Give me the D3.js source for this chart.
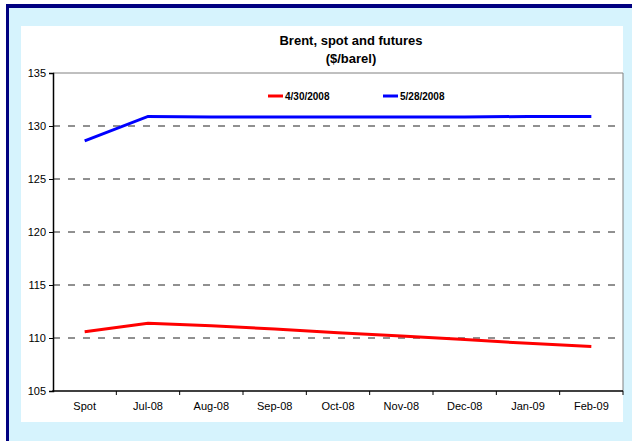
<!DOCTYPE html>
<html>
<head>
<meta charset="utf-8">
<script src="https://cdn.jsdelivr.net/npm/d3@7"></script>
<style>
  body { margin: 0; padding: 0; background: #fff; }
  svg { display: block; font-family: "Liberation Sans", Arial, sans-serif; }
</style>
</head>
<body>
<div id="chart"></div>
<script>
var categories = ["Spot", "Jul-08", "Aug-08", "Sep-08", "Oct-08", "Nov-08", "Dec-08", "Jan-09", "Feb-09"];
var april = [110.6, 111.4, 111.15, 110.85, 110.5, 110.2, 109.85, 109.5, 109.2];
var may = [128.6, 130.9, 130.85, 130.85, 130.85, 130.85, 130.85, 130.9, 130.9];
var yTicks = [105, 110, 115, 120, 125, 130, 135];
var seriesNames = ["4/30/2008", "5/28/2008"];
var seriesColors = ["#ff0000", "#0000ff"];

var width = 632,
    height = 441,
    plotLeft = 53,
    plotRight = 623,
    plotTop = 73,
    plotBottom = 391;

var svg = d3.select("#chart")
    .append("svg")
    .attr("width", width)
    .attr("height", height);

// outer frame
svg.append("rect")
    .attr("x", 0).attr("y", 0)
    .attr("width", width).attr("height", height)
    .style("fill", "#fff");
svg.append("rect")
    .attr("x", 6).attr("y", 4)
    .attr("width", width - 6).attr("height", height - 4)
    .style("fill", "#000080");
svg.append("rect")
    .attr("x", 9).attr("y", 8)
    .attr("width", width - 9).attr("height", height - 8)
    .style("fill", "#d6f3fd");
svg.append("rect")
    .attr("x", 21).attr("y", 26)
    .attr("width", 602).attr("height", 396)
    .style("fill", "#fff");

var x = d3.scaleBand()
    .domain(categories)
    .range([plotLeft, plotRight]);

var y = d3.scaleLinear()
    .domain([105, 135])
    .range([plotBottom, plotTop]);

// dashed gridlines
svg.append("g")
    .selectAll("line")
    .data(yTicks.filter(function (d) { return d > 105 && d < 135; }))
    .enter().append("line")
    .attr("x1", plotLeft)
    .attr("x2", plotRight)
    .attr("y1", function (d) { return y(d); })
    .attr("y2", function (d) { return y(d); })
    .style("stroke", "#222")
    .style("stroke-width", 1)
    .style("stroke-dasharray", "7,8");

// plot border top / right
svg.append("path")
    .attr("d", "M" + plotLeft + "," + plotTop + "H" + plotRight + "V" + plotBottom)
    .style("fill", "none")
    .style("stroke", "#808080")
    .style("stroke-width", 1);

// y axis
var yAxis = svg.append("g")
    .attr("transform", "translate(" + plotLeft + ",0)")
    .call(d3.axisLeft(y).tickValues(yTicks).tickSize(4).tickPadding(3).tickFormat(d3.format("d")));

// x axis with ticks at category boundaries
var xAxis = svg.append("g")
    .attr("transform", "translate(0," + plotBottom + ")")
    .call(d3.axisBottom(x).tickSize(0).tickPadding(11));

xAxis.selectAll(".boundary")
    .data(categories)
    .enter().append("line")
    .attr("class", "boundary")
    .attr("x1", function (d) { return x(d) + x.bandwidth(); })
    .attr("x2", function (d) { return x(d) + x.bandwidth(); })
    .attr("y1", 0)
    .attr("y2", 4)
    .style("stroke", "#000");

[yAxis, xAxis].forEach(function (a) {
    a.select(".domain").style("stroke", "#000").style("stroke-width", 1.5);
    a.selectAll("text").style("font-size", "11px").style("fill", "#000")
        .style("font-family", "'Liberation Sans', Arial, sans-serif");
});
xAxis.select(".domain").attr("d", "M" + (plotLeft - 0.75) + ",0H" + plotRight);

// lines
var line = d3.line()
    .x(function (d, i) { return x(categories[i]) + x.bandwidth() / 2; })
    .y(function (d) { return y(d); });

[april, may].forEach(function (s, i) {
    svg.append("path")
        .datum(s)
        .attr("d", line)
        .style("fill", "none")
        .style("stroke", seriesColors[i])
        .style("stroke-width", 3);
});

// legend
var legendX = [268, 383];
var legend = svg.selectAll(".legend")
    .data(seriesNames)
    .enter().append("g")
    .attr("class", "legend")
    .attr("transform", function (d, i) { return "translate(" + legendX[i] + ",96)"; });
legend.append("line")
    .attr("x1", 0).attr("x2", 15)
    .attr("y1", 0).attr("y2", 0)
    .style("stroke", function (d, i) { return seriesColors[i]; })
    .style("stroke-width", 3);
legend.append("text")
    .attr("x", 17)
    .attr("y", 4)
    .text(function (d) { return d; })
    .style("font-size", "10px")
    .style("font-weight", "bold");

// title
var title = svg.append("text")
    .attr("text-anchor", "middle")
    .style("font-size", "13px")
    .style("font-weight", "bold");
title.append("tspan").attr("x", 351).attr("y", 45).text("Brent, spot and futures");
title.append("tspan").attr("x", 351).attr("y", 63).text("($/barel)");
</script>
</body>
</html>
